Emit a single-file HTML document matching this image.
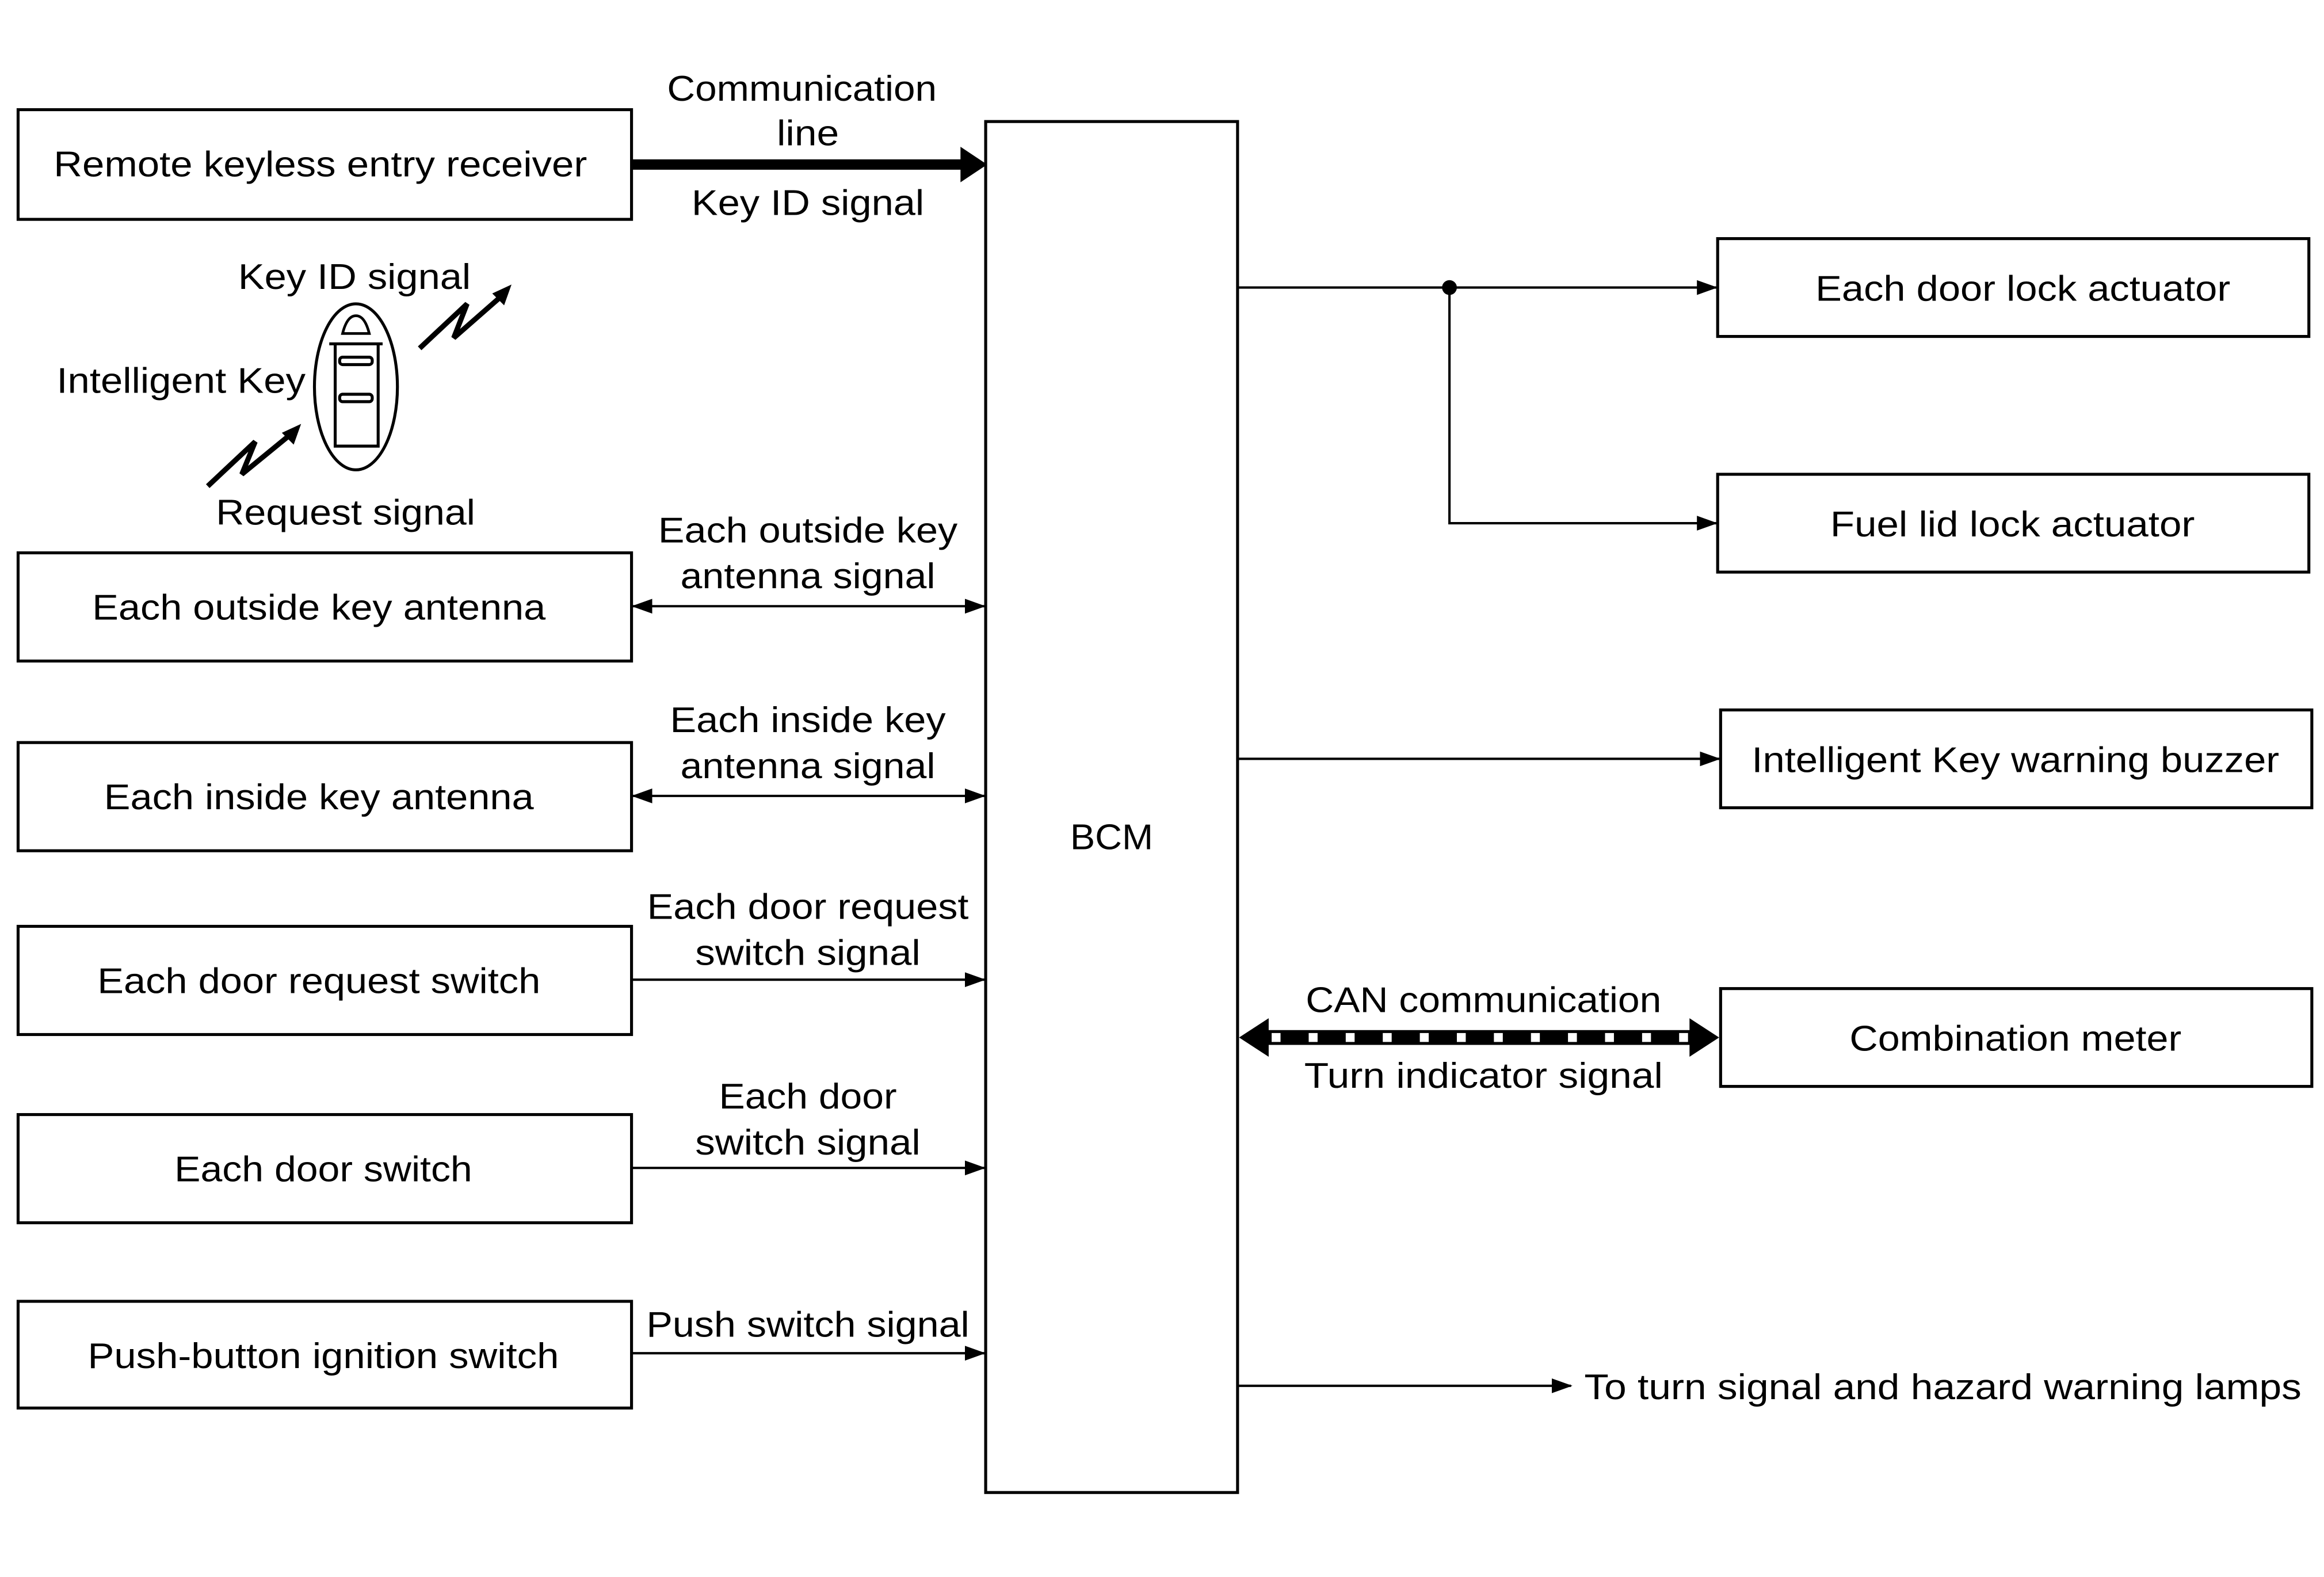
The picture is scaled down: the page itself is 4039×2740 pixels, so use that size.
<!DOCTYPE html>
<html><head><meta charset="utf-8"><style>
html,body{margin:0;padding:0;background:#fff;}
svg{display:block;}
text{font-family:"Liberation Sans",Arial,sans-serif;font-size:24px;fill:#000;text-anchor:middle;dominant-baseline:central;}
</style></head><body>
<svg width="4039" height="2740" viewBox="0 0 1568 1064" xmlns="http://www.w3.org/2000/svg">
<defs>
<marker id="a" markerWidth="14" markerHeight="10" refX="13" refY="5" orient="auto-start-reverse" markerUnits="userSpaceOnUse">
<path d="M0,0 L14,5 L0,10 Z" fill="#000"/></marker>
</defs>
<g fill="none" stroke="#000" stroke-width="2">
<rect x="12" y="74" width="414" height="74"/>
<rect x="665" y="82" width="170" height="925"/>
<rect x="12" y="373" width="414" height="73"/>
<rect x="12" y="501" width="414" height="73"/>
<rect x="12" y="625" width="414" height="73"/>
<rect x="12" y="752" width="414" height="73"/>
<rect x="12" y="878" width="414" height="72"/>
<rect x="1159" y="161" width="399" height="66"/>
<rect x="1159" y="320" width="399" height="66"/>
<rect x="1161" y="479" width="399" height="66"/>
<rect x="1161" y="667" width="399" height="66"/>
</g>
<line x1="426" y1="111" x2="650" y2="111" stroke="#000" stroke-width="7"/>
<path d="M648,99 L666,111 L648,123 Z" fill="#000"/>
<g stroke="#000" stroke-width="1.6" fill="none">
<line x1="427" y1="409" x2="664" y2="409" marker-start="url(#a)" marker-end="url(#a)"/>
<line x1="427" y1="537" x2="664" y2="537" marker-start="url(#a)" marker-end="url(#a)"/>
<line x1="426" y1="661" x2="664" y2="661" marker-end="url(#a)"/>
<line x1="426" y1="788" x2="664" y2="788" marker-end="url(#a)"/>
<line x1="426" y1="913" x2="664" y2="913" marker-end="url(#a)"/>
<line x1="835" y1="194" x2="1158" y2="194" marker-end="url(#a)"/>
<polyline points="978,194 978,353 1158,353" marker-end="url(#a)"/>
<line x1="835" y1="512" x2="1160" y2="512" marker-end="url(#a)"/>
<line x1="835" y1="935" x2="1060" y2="935" marker-end="url(#a)"/>
</g>
<circle cx="978" cy="194" r="5" fill="#000"/>
<line x1="850" y1="700" x2="1146" y2="700" stroke="#000" stroke-width="10"/>
<line x1="858" y1="700" x2="1146" y2="700" stroke="#fff" stroke-width="6" stroke-dasharray="6 19"/>
<path d="M836,700 L856,687 L856,713 Z" fill="#000"/>
<path d="M1160,700 L1140,687 L1140,713 Z" fill="#000"/>
<g fill="none" stroke="#000" stroke-width="2">
<ellipse cx="240" cy="261" rx="28" ry="56"/>
<path d="M226,232 L226,301 L255,301 L255,232"/>
<path d="M231,225 L249,225 Q246,213 240,213 Q234,213 231,225 Z" stroke-width="1.8"/>
<line x1="222" y1="232" x2="258" y2="232"/>
<rect x="229" y="241" width="22" height="5" rx="2"/>
<rect x="229" y="266" width="22" height="5" rx="2"/>
</g>
<g fill="none" stroke="#000" stroke-width="3.5">
<polyline points="283,235 315,205 306,228 338,200"/>
<polyline points="140,328 172,298 163,320 196,293"/>
</g>
<path d="M345,192 L332,198 L340,206 Z" fill="#000"/>
<path d="M203,286 L190,292 L198,300 Z" fill="#000"/>
<text x="216" y="111" textLength="360" lengthAdjust="spacingAndGlyphs">Remote keyless entry receiver</text>
<text x="541" y="60" textLength="182" lengthAdjust="spacingAndGlyphs">Communication</text>
<text x="545" y="90" textLength="42" lengthAdjust="spacingAndGlyphs">line</text>
<text x="545" y="137" textLength="157" lengthAdjust="spacingAndGlyphs">Key ID signal</text>
<text x="239" y="187" textLength="157" lengthAdjust="spacingAndGlyphs">Key ID signal</text>
<text x="122" y="257" textLength="168" lengthAdjust="spacingAndGlyphs">Intelligent Key</text>
<text x="233" y="346" textLength="175" lengthAdjust="spacingAndGlyphs">Request signal</text>
<text x="750" y="565" textLength="56" lengthAdjust="spacingAndGlyphs">BCM</text>
<text x="215" y="410" textLength="306" lengthAdjust="spacingAndGlyphs">Each outside key antenna</text>
<text x="215" y="538" textLength="290" lengthAdjust="spacingAndGlyphs">Each inside key antenna</text>
<text x="215" y="662" textLength="299" lengthAdjust="spacingAndGlyphs">Each door request switch</text>
<text x="218" y="789" textLength="201" lengthAdjust="spacingAndGlyphs">Each door switch</text>
<text x="218" y="915" textLength="318" lengthAdjust="spacingAndGlyphs">Push-button ignition switch</text>
<text x="545" y="358" textLength="202" lengthAdjust="spacingAndGlyphs">Each outside key</text>
<text x="545" y="389" textLength="172" lengthAdjust="spacingAndGlyphs">antenna signal</text>
<text x="545" y="486" textLength="186" lengthAdjust="spacingAndGlyphs">Each inside key</text>
<text x="545" y="517" textLength="172" lengthAdjust="spacingAndGlyphs">antenna signal</text>
<text x="545" y="612" textLength="217" lengthAdjust="spacingAndGlyphs">Each door request</text>
<text x="545" y="643" textLength="152" lengthAdjust="spacingAndGlyphs">switch signal</text>
<text x="545" y="740" textLength="120" lengthAdjust="spacingAndGlyphs">Each door</text>
<text x="545" y="771" textLength="152" lengthAdjust="spacingAndGlyphs">switch signal</text>
<text x="545" y="894" textLength="218" lengthAdjust="spacingAndGlyphs">Push switch signal</text>
<text x="1365" y="195" textLength="280" lengthAdjust="spacingAndGlyphs">Each door lock actuator</text>
<text x="1358" y="354" textLength="246" lengthAdjust="spacingAndGlyphs">Fuel lid lock actuator</text>
<text x="1360" y="513" textLength="356" lengthAdjust="spacingAndGlyphs">Intelligent Key warning buzzer</text>
<text x="1360" y="701" textLength="224" lengthAdjust="spacingAndGlyphs">Combination meter</text>
<text x="1001" y="675" textLength="240" lengthAdjust="spacingAndGlyphs">CAN communication</text>
<text x="1001" y="726" textLength="242" lengthAdjust="spacingAndGlyphs">Turn indicator signal</text>
<text x="1311" y="936" textLength="484" lengthAdjust="spacingAndGlyphs">To turn signal and hazard warning lamps</text>
</svg>
</body></html>
